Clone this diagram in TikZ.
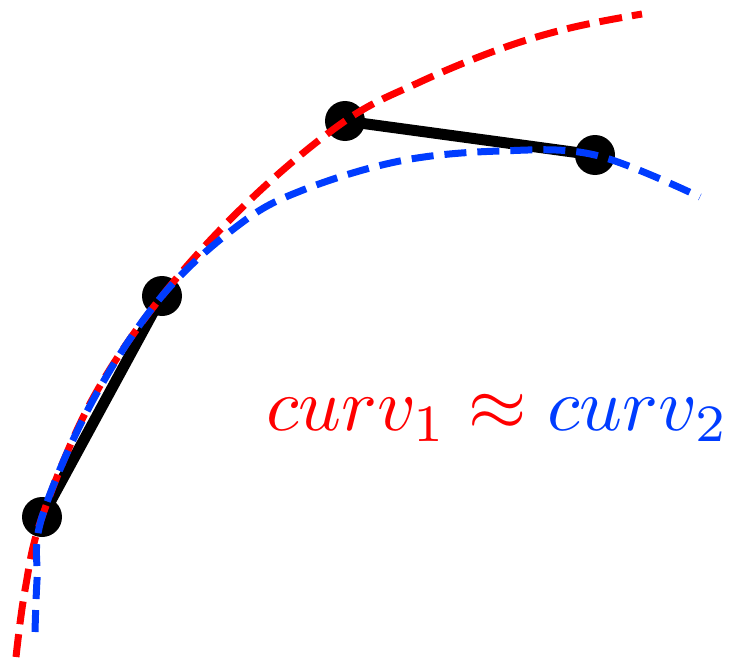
\documentclass[tikz,border=0pt]{standalone}
\definecolor{cred}{RGB}{255,0,0}
\definecolor{cblue}{RGB}{0,60,255}
\begin{document}
\begin{tikzpicture}[x=1pt,y=-1pt,
  dot/.style={circle,fill=black,inner sep=0pt,minimum size=40pt},
  seg/.style={line width=11pt,black},
  curvered/.style={line width=7pt,cred,dash pattern=on 23pt off 10pt},
  curveblue/.style={line width=7pt,cblue,dash pattern=on 22pt off 11pt}]
\useasboundingbox (0,0) rectangle (734,661);
\node[dot] (p1) at (42,517) {};
\node[dot] (p2) at (162,296) {};
\node[dot] (p3) at (345,121) {};
\node[dot] (p4) at (595,155) {};
\draw[seg] (p1.center) -- (p2.center);
\draw[seg] (p3.center) -- (p4.center);
\draw[curvered] plot[smooth,tension=0.6] coordinates {(16,657) (25,590) (42,517) (92,400) (162,296) (250,200) (345,121) (420,82) (500,49) (570,28) (642,14)};
\draw[curveblue] plot[smooth,tension=0.6] coordinates {(35,632) (37,580) (42,517) (93,400) (162,296) (240,224) (303,190) (400,161) (500,151) (595,155) (700,197)};
\node[anchor=base west,inner sep=0pt] (eq) at (266,430) {\scalebox{7.5}{$\color{cred}curv_1\approx\color{cblue}curv_2$}};
\end{tikzpicture}
\end{document}
